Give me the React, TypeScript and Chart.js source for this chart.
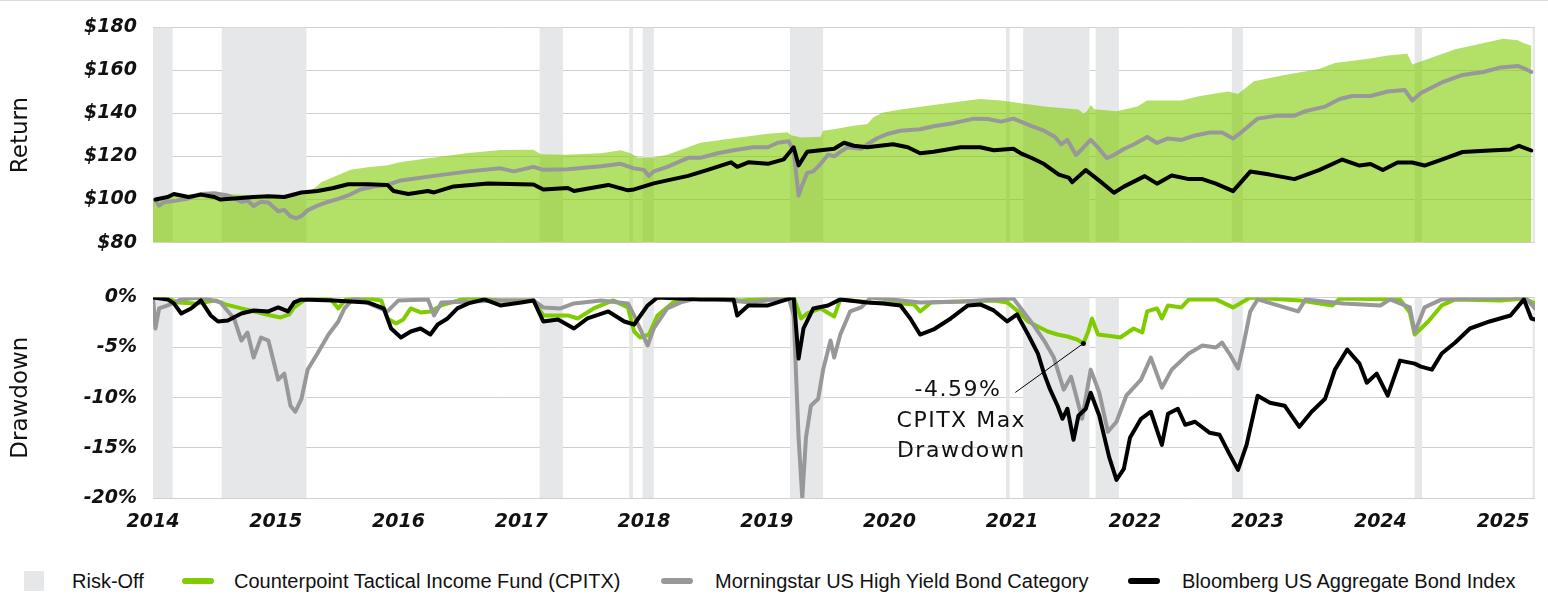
import React, { useEffect, useRef } from 'react';
import { Chart, registerables } from 'chart.js';

Chart.register(...registerables);

// ---------- axis / category data ----------
const yearTicks = [2014, 2015, 2016, 2017, 2018, 2019, 2020, 2021, 2022, 2023, 2024, 2025];
const returnTicks = [80, 100, 120, 140, 160, 180];
const drawdownTicks = [-20, -15, -10, -5, 0];
const X_MIN = 2014;
const X_MAX = 2025.26;

// ---------- risk-off periods ----------
const riskOffStart = [2014.0, 2014.56, 2017.15, 2017.88, 2017.99, 2019.19, 2020.95, 2021.09, 2021.68, 2022.79, 2024.28, 2025.24];
const riskOffEnd = [2014.16, 2015.25, 2017.34, 2017.91, 2018.08, 2019.46, 2020.98, 2021.63, 2021.87, 2022.88, 2024.34, 2025.26];

// ---------- Return: Counterpoint Tactical Income Fund (CPITX) ----------
const cpitxReturnX = [2014.0, 2014.11, 2014.23, 2014.39, 2014.5, 2014.64, 2014.8, 2014.96, 2015.08, 2015.21, 2015.26, 2015.33, 2015.37, 2015.49, 2015.61, 2015.75, 2015.91, 2016.02, 2016.29, 2016.57, 2016.83, 2017.1, 2017.16, 2017.35, 2017.65, 2017.81, 2017.89, 2017.95, 2018.08, 2018.19, 2018.46, 2018.73, 2019.01, 2019.17, 2019.2, 2019.28, 2019.44, 2019.46, 2019.55, 2019.68, 2019.82, 2019.87, 2019.95, 2020.09, 2020.36, 2020.64, 2020.74, 2020.91, 2021.07, 2021.26, 2021.54, 2021.58, 2021.61, 2021.64, 2021.67, 2021.85, 2022.02, 2022.1, 2022.38, 2022.52, 2022.76, 2022.84, 2022.97, 2023.22, 2023.5, 2023.63, 2023.92, 2024.06, 2024.22, 2024.26, 2024.33, 2024.61, 2024.89, 2025.0, 2025.12, 2025.17, 2025.23];
const cpitxReturnY = [100, 101, 102, 102.5, 103, 102.5, 102, 101.5, 101, 102, 103, 106, 108, 111, 113.8, 115, 116, 117.4, 119.5, 121.6, 123, 123.2, 121.1, 120.8, 121.5, 122.9, 121.5, 119.5, 119.5, 120.8, 126.4, 128.5, 130.6, 131.3, 129.9, 128.8, 129.2, 132, 132.7, 134.1, 135.1, 138.3, 140.4, 141.8, 143.9, 146, 146.7, 146, 144.7, 143.2, 141.8, 140.0, 141, 143.9, 142, 141, 143.2, 146, 146, 148, 150.2, 149, 155, 157.9, 160.7, 163.5, 165.6, 167, 167.7, 162.8, 164.2, 169.8, 173.3, 174.7, 174, 172.6, 171.5];

// ---------- Return: Morningstar US High Yield Bond Category ----------
const hyReturnX = [2014.02, 2014.05, 2014.09, 2014.19, 2014.29, 2014.39, 2014.5, 2014.61, 2014.72, 2014.77, 2014.82, 2014.88, 2014.94, 2015.02, 2015.07, 2015.12, 2015.17, 2015.21, 2015.26, 2015.34, 2015.43, 2015.51, 2015.59, 2015.69, 2015.8, 2015.91, 2016.02, 2016.29, 2016.57, 2016.83, 2016.94, 2017.1, 2017.18, 2017.38, 2017.65, 2017.81, 2017.92, 2018.0, 2018.04, 2018.08, 2018.19, 2018.36, 2018.46, 2018.6, 2018.73, 2018.89, 2019.01, 2019.09, 2019.18, 2019.22, 2019.26, 2019.29, 2019.33, 2019.38, 2019.44, 2019.5, 2019.55, 2019.6, 2019.66, 2019.77, 2019.82, 2019.9, 2019.99, 2020.09, 2020.25, 2020.36, 2020.52, 2020.69, 2020.8, 2020.91, 2021.01, 2021.07, 2021.16, 2021.26, 2021.35, 2021.4, 2021.45, 2021.52, 2021.57, 2021.64, 2021.71, 2021.77, 2021.83, 2021.91, 2021.99, 2022.1, 2022.18, 2022.27, 2022.38, 2022.49, 2022.61, 2022.71, 2022.8, 2022.85, 2022.94, 2023.0, 2023.16, 2023.3, 2023.39, 2023.55, 2023.67, 2023.77, 2023.92, 2024.06, 2024.2, 2024.26, 2024.33, 2024.5, 2024.67, 2024.84, 2024.98, 2025.12, 2025.17, 2025.23];
const hyReturnY = [99.8, 97.2, 98.8, 99.5, 100.5, 102.6, 102.9, 101.9, 99, 99.6, 97, 99, 98.6, 94.6, 95.2, 92.2, 91.3, 92.4, 95, 97.2, 99, 100.3, 101.9, 104.7, 106.1, 106.8, 108.9, 111, 113.1, 114.5, 113.1, 115.2, 113.8, 114.1, 115.5, 116.6, 114.5, 113.8, 111, 113.1, 115.2, 119.4, 119.4, 121.5, 122.9, 124.3, 124.3, 126.4, 127.1, 122.2, 101.9, 106.8, 112.4, 113.1, 116.6, 120.8, 120.1, 122.2, 124.3, 123.6, 125.7, 128.5, 130.6, 132, 132.7, 134.1, 135.5, 137.6, 137.4, 136.2, 137.6, 136.2, 134.1, 132, 129.1, 125.6, 127.7, 120.7, 123.5, 127.7, 123.5, 119.3, 120.7, 123.5, 125.6, 129.1, 126.3, 128.4, 127.7, 129.8, 131.2, 131.2, 128.4, 130.5, 134.8, 137.6, 139, 139, 141.1, 143.2, 146.7, 148.1, 148.1, 150.2, 150.9, 146, 149.5, 154.4, 157.9, 159.3, 161.4, 162.1, 161, 159.3];

// ---------- Return: Bloomberg US Aggregate Bond Index ----------
const aggReturnX = [2014.02, 2014.12, 2014.17, 2014.29, 2014.39, 2014.5, 2014.55, 2014.66, 2014.82, 2014.94, 2015.07, 2015.21, 2015.34, 2015.47, 2015.59, 2015.75, 2015.91, 2015.96, 2016.08, 2016.24, 2016.29, 2016.45, 2016.73, 2017.0, 2017.1, 2017.18, 2017.38, 2017.43, 2017.71, 2017.87, 2017.92, 2018.08, 2018.19, 2018.36, 2018.52, 2018.71, 2018.76, 2018.85, 2019.01, 2019.14, 2019.22, 2019.26, 2019.33, 2019.55, 2019.63, 2019.71, 2019.82, 2020.03, 2020.15, 2020.25, 2020.36, 2020.58, 2020.74, 2020.85, 2021.01, 2021.07, 2021.16, 2021.26, 2021.38, 2021.46, 2021.49, 2021.6, 2021.71, 2021.83, 2021.91, 2022.08, 2022.18, 2022.3, 2022.44, 2022.55, 2022.66, 2022.8, 2022.94, 2023.1, 2023.3, 2023.5, 2023.69, 2023.83, 2023.92, 2024.02, 2024.14, 2024.26, 2024.36, 2024.5, 2024.67, 2024.89, 2025.06, 2025.13, 2025.23];
const aggReturnY = [100, 101.2, 102.6, 101.2, 102.3, 101.2, 100, 100.5, 101.2, 101.5, 101.2, 103.3, 104, 105.4, 107.1, 107.1, 106.8, 104, 102.6, 104, 103.3, 106.1, 107.5, 107.1, 107, 104.7, 105.4, 104, 106.8, 104.3, 104.7, 107.5, 108.9, 111, 113.8, 117.3, 115.2, 117.3, 116.6, 118.7, 124.3, 115.9, 122.2, 123.6, 126.4, 125, 124.3, 125.7, 124.3, 121.5, 122.2, 124.3, 124.3, 122.9, 123.6, 121.5, 119.3, 116.5, 111.6, 110.2, 108.1, 113.7, 108.8, 103.2, 106, 110.9, 107.4, 111.2, 109.5, 109.5, 107.4, 103.9, 113, 111.6, 109.5, 113.7, 118.6, 115.8, 116.5, 113.7, 117.2, 117.2, 115.8, 118.6, 122.1, 122.8, 123.3, 125, 122.8];

// ---------- Drawdown: CPITX ----------
const cpitxDdX = [2014.0, 2014.11, 2014.2, 2014.35, 2014.51, 2014.59, 2014.72, 2014.86, 2014.96, 2015.04, 2015.11, 2015.15, 2015.23, 2015.29, 2015.45, 2015.51, 2015.57, 2015.69, 2015.86, 2015.91, 2015.98, 2016.04, 2016.1, 2016.18, 2016.26, 2016.35, 2016.57, 2016.83, 2017.1, 2017.18, 2017.38, 2017.46, 2017.59, 2017.75, 2017.87, 2017.92, 2017.97, 2018.04, 2018.11, 2018.24, 2018.46, 2018.79, 2019.22, 2019.28, 2019.33, 2019.44, 2019.55, 2019.6, 2019.85, 2020.09, 2020.2, 2020.25, 2020.34, 2020.58, 2020.85, 2020.96, 2021.04, 2021.13, 2021.21, 2021.29, 2021.37, 2021.45, 2021.53, 2021.58, 2021.62, 2021.65, 2021.7, 2021.83, 2021.88, 2021.99, 2022.06, 2022.1, 2022.18, 2022.22, 2022.27, 2022.38, 2022.44, 2022.66, 2022.8, 2022.94, 2023.35, 2023.61, 2023.67, 2024.16, 2024.24, 2024.28, 2024.39, 2024.5, 2024.61, 2024.98, 2025.17, 2025.26];
const cpitxDdY = [0, 0, -0.5, -0.6, -0.3, -0.7, -1.1, -1.5, -1.8, -2, -1.7, -1, -0.3, 0, -0.2, -1.1, -0.2, 0, -0.3, -2.1, -2.6, -2.2, -1.1, -1.5, -1.4, -0.8, 0, -0.3, -0.3, -1.8, -1.8, -2.1, -1.1, -0.3, -1, -3.4, -4, -3.7, -1.8, -0.5, 0, -0.3, 0, -2.1, -1.6, -1.1, -1.9, -0.2, -0.5, -0.6, -0.7, -1.4, -0.5, -0.4, -0.3, -0.5, -1.3, -2.4, -2.9, -3.4, -3.7, -3.9, -4.2, -4.59, -3.4, -2.1, -3.7, -3.9, -4, -3.1, -3.5, -1.4, -1.1, -2.1, -0.8, -1, -0.2, -0.2, -1, 0, -0.3, -0.8, -0.1, -0.2, -1.5, -3.7, -2.4, -0.8, -0.2, -0.3, -0.1, -0.6];

// ---------- Drawdown: Morningstar US High Yield ----------
const hyDdX = [2014.0, 2014.02, 2014.05, 2014.12, 2014.23, 2014.39, 2014.55, 2014.66, 2014.72, 2014.77, 2014.82, 2014.88, 2014.94, 2015.02, 2015.07, 2015.12, 2015.16, 2015.21, 2015.26, 2015.34, 2015.43, 2015.51, 2015.56, 2015.64, 2015.91, 2016.0, 2016.24, 2016.29, 2016.35, 2016.6, 2016.83, 2017.1, 2017.18, 2017.32, 2017.43, 2017.65, 2017.87, 2017.92, 2018.03, 2018.08, 2018.19, 2018.3, 2018.46, 2018.87, 2019.18, 2019.22, 2019.26, 2019.29, 2019.32, 2019.36, 2019.42, 2019.46, 2019.52, 2019.55, 2019.6, 2019.68, 2019.77, 2019.85, 2020.25, 2020.6, 2021.01, 2021.09, 2021.17, 2021.26, 2021.34, 2021.42, 2021.48, 2021.53, 2021.57, 2021.64, 2021.71, 2021.78, 2021.85, 2021.93, 2022.05, 2022.13, 2022.22, 2022.3, 2022.44, 2022.55, 2022.66, 2022.71, 2022.77, 2022.84, 2022.88, 2022.94, 2023.0, 2023.33, 2023.39, 2023.7, 2024.0, 2024.08, 2024.24, 2024.28, 2024.36, 2024.5, 2025.18, 2025.26];
const hyDdY = [0, -3.1, -1.1, -0.8, -0.2, 0, -0.5, -2.1, -4.3, -3.5, -6, -4, -4.3, -8.2, -7.6, -10.8, -11.4, -10.1, -7.2, -5.6, -3.7, -2.4, -1.1, 0, -1.4, -0.3, -0.2, -1.8, -0.5, -0.4, -0.3, -0.3, -1, -1.1, -0.6, -0.3, -0.6, -1.8, -4.8, -3.1, -1.1, -0.5, 0, -0.5, 0, -1.8, -14, -20, -14, -10.8, -10.1, -7.2, -4.3, -6, -3.7, -1.4, -1, 0, -0.5, -0.4, -0.1, -1.4, -2.7, -4.3, -6, -9.2, -7.9, -10.2, -12.1, -7.2, -9.5, -13.4, -12.4, -9.8, -8.2, -6, -9, -7.2, -5.6, -4.8, -5, -4.5, -5.6, -7.1, -5, -1.4, -0.2, -1.4, -0.2, -0.6, -0.8, -0.2, -1, -3.5, -1, -0.2, 0, -1.1];

// ---------- Drawdown: Bloomberg US Aggregate ----------
const aggDdX = [2014.0, 2014.12, 2014.17, 2014.23, 2014.31, 2014.39, 2014.47, 2014.53, 2014.61, 2014.72, 2014.82, 2014.94, 2015.02, 2015.1, 2015.15, 2015.21, 2015.47, 2015.75, 2015.88, 2015.94, 2016.02, 2016.1, 2016.18, 2016.26, 2016.32, 2016.4, 2016.48, 2016.57, 2016.7, 2016.83, 2017.0, 2017.1, 2017.18, 2017.3, 2017.43, 2017.54, 2017.71, 2017.84, 2017.92, 2018.03, 2018.11, 2018.46, 2018.73, 2018.76, 2018.85, 2019.01, 2019.14, 2019.22, 2019.26, 2019.3, 2019.38, 2019.5, 2019.6, 2019.82, 2019.95, 2020.09, 2020.17, 2020.25, 2020.36, 2020.5, 2020.64, 2020.74, 2020.85, 2020.96, 2021.04, 2021.13, 2021.21, 2021.26, 2021.31, 2021.37, 2021.41, 2021.45, 2021.5, 2021.54, 2021.6, 2021.64, 2021.71, 2021.79, 2021.85, 2021.91, 2021.96, 2022.05, 2022.13, 2022.22, 2022.27, 2022.35, 2022.41, 2022.49, 2022.61, 2022.69, 2022.77, 2022.84, 2022.91, 2023.0, 2023.1, 2023.22, 2023.34, 2023.44, 2023.55, 2023.63, 2023.73, 2023.83, 2023.89, 2023.97, 2024.06, 2024.16, 2024.28, 2024.33, 2024.42, 2024.5, 2024.61, 2024.73, 2024.89, 2025.06, 2025.17, 2025.23, 2025.26];
const aggDdY = [0, -0.2, -0.6, -1.6, -1.1, -0.3, -1.8, -2.4, -2.3, -1.6, -1.3, -1.4, -1, -1.4, -0.5, -0.2, -0.3, -0.5, -1.1, -3.1, -4, -3.4, -3.1, -3.7, -2.7, -2.1, -1.1, -0.6, -0.2, -0.8, -0.5, -0.3, -2.4, -2.2, -3.1, -2.1, -1.4, -2.4, -2.7, -0.8, 0, -0.2, -0.2, -1.8, -0.8, -0.8, -0.3, 0, -6.1, -3.1, -1.1, -0.8, -0.2, -0.5, -0.6, -0.8, -2.1, -3.7, -3.2, -2.1, -0.8, -0.7, -1.3, -2.4, -1.7, -3.7, -5.6, -7.6, -9.2, -10.8, -12.1, -11.1, -14.2, -11.8, -11.1, -9.5, -11.8, -15.9, -18.2, -17.1, -14, -12.1, -11.4, -14.7, -11.6, -11.1, -12.7, -12.4, -13.5, -13.7, -15.6, -17.2, -14.7, -9.8, -10.5, -10.8, -12.9, -11.4, -10.1, -7.2, -5.2, -6.6, -8.5, -7.6, -9.8, -6.3, -6.6, -6.9, -7.2, -5.6, -4.5, -3.1, -2.4, -1.8, -0.2, -2.1, -2.2];

// ---------- annotation ----------
const maxDrawdownX = 2021.58;
const maxDrawdownY = -4.59;
const noteLines = ['CPITX Max', 'Drawdown'];

// ---------- legend ----------
const legendLabels = [
  'Risk-Off',
  'Counterpoint Tactical Income Fund (CPITX)',
  'Morningstar US High Yield Bond Category',
  'Bloomberg US Aggregate Bond Index',
];

const GREEN = '#80CC00';
const GREEN_FILL = 'rgba(128, 204, 0, 0.6)';
const GRAY = '#98989A';
const BLACK = '#000000';
const BAND = '#E6E7E8';
const GRID = '#D0D0D0';
const TEXT = '#111111';

const tickFont = { family: 'DejaVu Sans', size: 19, style: 'italic' as const, weight: 'bold' as const };
const titleFont = { family: 'DejaVu Sans', size: 23, weight: 'normal' as const };

const toPoints = (xs: number[], ys: number[]) => xs.map((x, i) => ({ x, y: ys[i] }));

const riskOffPlugin = {
  id: 'riskOffBands',
  beforeDatasetsDraw(chart: any) {
    const { ctx, chartArea, scales } = chart;
    const xs = scales.x;
    ctx.save();
    ctx.beginPath();
    ctx.rect(chartArea.left, chartArea.top, chartArea.right - chartArea.left, chartArea.bottom - chartArea.top);
    ctx.clip();
    ctx.fillStyle = BAND;
    riskOffStart.forEach((s, i) => {
      const a = xs.getPixelForValue(s);
      const b = xs.getPixelForValue(riskOffEnd[i]);
      ctx.fillRect(a, chartArea.top, Math.max(b - a, 1), chartArea.bottom - chartArea.top);
    });
    ctx.restore();
  },
};

const annotationPlugin = {
  id: 'maxDrawdownNote',
  afterDatasetsDraw(chart: any) {
    const { ctx, scales } = chart;
    const px = scales.x.getPixelForValue(maxDrawdownX);
    const py = scales.y.getPixelForValue(maxDrawdownY);
    ctx.save();
    ctx.strokeStyle = '#000';
    ctx.lineWidth = 1;
    ctx.beginPath();
    ctx.moveTo(px, py);
    ctx.lineTo(px - 68, py + 49);
    ctx.stroke();
    ctx.beginPath();
    ctx.arc(px, py, 2.5, 0, Math.PI * 2);
    ctx.fillStyle = '#000';
    ctx.fill();
    ctx.fillStyle = TEXT;
    ctx.font = '22px "DejaVu Sans"';
    try { (ctx as any).letterSpacing = '1.5px'; } catch (e) { /* ignore */ }
    ctx.textBaseline = 'middle';
    ctx.textAlign = 'right';
    ctx.fillText(`${maxDrawdownY.toFixed(2)}%`, px - 82, py + 47);
    ctx.textAlign = 'center';
    ctx.fillText(noteLines[0], px - 122, py + 78);
    ctx.fillText(noteLines[1], px - 122, py + 108);
    ctx.restore();
  },
};

function baseX(show: boolean) {
  return {
    type: 'linear' as const,
    min: X_MIN,
    max: X_MAX,
    display: show,
    afterBuildTicks: (s: any) => { s.ticks = yearTicks.map((v) => ({ value: v })); },
    afterFit: (s: any) => { if (show) s.height = 52; },
    grid: { display: false, drawTicks: false },
    border: { display: false },
    ticks: {
      padding: 13,
      font: tickFont,
      color: TEXT,
      maxRotation: 0,
      autoSkip: false,
      callback: (v: any) => String(v),
    },
  };
}

function baseY(min: number, max: number, ticks: number[], fmt: (v: number) => string, title: string) {
  return {
    min,
    max,
    afterBuildTicks: (s: any) => { s.ticks = ticks.map((v) => ({ value: v })); },
    afterFit: (s: any) => { s.width = 153; },
    grid: { color: GRID, lineWidth: 1, drawTicks: false },
    border: { display: false },
    ticks: { padding: 16, font: tickFont, color: TEXT, callback: (v: any) => fmt(Number(v)) },
    title: { display: true, text: title, font: titleFont, color: TEXT, padding: { top: 7, bottom: 0 } },
  };
}

const lineDs = (label: string, data: any[], color: string, width: number) => ({
  label,
  data,
  borderColor: color,
  backgroundColor: color,
  borderWidth: width,
  pointRadius: 0,
  tension: 0,
  fill: false,
  borderJoinStyle: 'round' as const,
  borderCapStyle: 'round' as const,
});

export default function App() {
  const topRef = useRef<HTMLCanvasElement | null>(null);
  const botRef = useRef<HTMLCanvasElement | null>(null);

  useEffect(() => {
    if (!topRef.current || !botRef.current) return;
    const top = new Chart(topRef.current, {
      type: 'line',
      data: {
        datasets: [
          lineDs(legendLabels[3], toPoints(aggReturnX, aggReturnY), BLACK, 4),
          lineDs(legendLabels[2], toPoints(hyReturnX, hyReturnY), GRAY, 4),
          {
            label: legendLabels[1],
            data: toPoints(cpitxReturnX, cpitxReturnY),
            borderColor: 'rgba(0,0,0,0)',
            backgroundColor: GREEN_FILL,
            borderWidth: 0,
            pointRadius: 0,
            tension: 0,
            fill: 'start',
          },
        ],
      },
      options: {
        responsive: false,
        animation: false,
        devicePixelRatio: 1,
        layout: { padding: { left: 0, right: 13, top: 19, bottom: 13 } },
        plugins: { legend: { display: false }, tooltip: { enabled: false } },
        scales: {
          x: baseX(false),
          y: baseY(80, 180, returnTicks, (v) => '$' + v, 'Return'),
        },
      } as any,
      plugins: [riskOffPlugin],
    });

    const bot = new Chart(botRef.current, {
      type: 'line',
      data: {
        datasets: [
          lineDs(legendLabels[3], toPoints(aggDdX, aggDdY), BLACK, 4),
          lineDs(legendLabels[2], toPoints(hyDdX, hyDdY), GRAY, 4),
          lineDs(legendLabels[1], toPoints(cpitxDdX, cpitxDdY), GREEN, 4),
        ],
      },
      options: {
        responsive: false,
        animation: false,
        devicePixelRatio: 1,
        layout: { padding: { left: 0, right: 13, top: 22, bottom: 0 } },
        plugins: { legend: { display: false }, tooltip: { enabled: false } },
        scales: {
          x: baseX(true),
          y: baseY(-20, 0, drawdownTicks, (v) => v + '%', 'Drawdown'),
        },
      } as any,
      plugins: [riskOffPlugin, annotationPlugin],
    });

    return () => {
      top.destroy();
      bot.destroy();
    };
  }, []);

  const legendText: React.CSSProperties = {
    position: 'absolute',
    top: 569,
    height: 24,
    lineHeight: '24px',
    fontFamily: '"Liberation Sans", Arial, sans-serif',
    fontSize: 20,
    color: TEXT,
    whiteSpace: 'nowrap',
  };
  const marker = (left: number, color: string): React.CSSProperties => ({
    position: 'absolute',
    left,
    top: 578,
    width: 32,
    height: 6,
    borderRadius: 3,
    background: color,
  });

  return (
    <div style={{ position: 'absolute', left: 0, top: 0, width: 1548, height: 594, background: '#fff', overflow: 'hidden' }}>
      <div style={{ position: 'absolute', left: 0, top: 0, width: 1548, height: 1, background: '#DCDCDC' }} />
      <canvas ref={topRef} width={1548} height={270} style={{ position: 'absolute', left: 0, top: 0, width: 1548, height: 270, display: 'block' }} />
      <canvas ref={botRef} width={1548} height={280} style={{ position: 'absolute', left: 0, top: 270, width: 1548, height: 280, display: 'block' }} />
      <div style={{ position: 'absolute', left: 24, top: 571, width: 20, height: 20, background: BAND }} />
      <span style={{ ...legendText, left: 72 }}>{legendLabels[0]}</span>
      <div style={marker(182, GREEN)} />
      <span style={{ ...legendText, left: 234 }}>{legendLabels[1]}</span>
      <div style={marker(661, GRAY)} />
      <span style={{ ...legendText, left: 715 }}>{legendLabels[2]}</span>
      <div style={marker(1128, BLACK)} />
      <span style={{ ...legendText, left: 1182 }}>{legendLabels[3]}</span>
    </div>
  );
}
